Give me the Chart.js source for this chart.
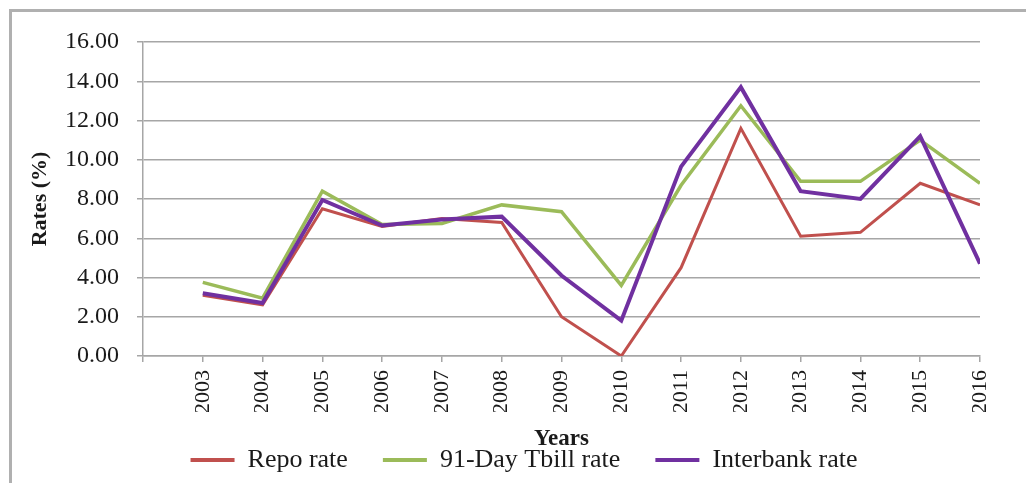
<!DOCTYPE html>
<html>
<head>
<meta charset="utf-8">
<script src="https://cdn.jsdelivr.net/npm/chart.js@4/dist/chart.umd.min.js"></script>
<style>
  html, body { margin: 0; padding: 0; background: #ffffff; }
  #wrap { width: 1026px; height: 483px; }
</style>
</head>
<body>
<div id="wrap"><canvas id="rates" width="1026" height="483"></canvas></div>
<script>
// Annual policy and money-market rates, percent
const years = [2003, 2004, 2005, 2006, 2007, 2008, 2009, 2010, 2011, 2012, 2013, 2014, 2015, 2016];
const repoRate = [3.1, 2.6, 7.5, 6.6, 7.0, 6.8, 2.0, 0.0, 4.5, 11.6, 6.1, 6.3, 8.8, 7.7];
const tbillRate = [3.75, 2.95, 8.4, 6.7, 6.75, 7.7, 7.35, 3.6, 8.7, 12.75, 8.9, 8.9, 11.0, 8.8];
const interbankRate = [3.2, 2.7, 7.95, 6.65, 6.95, 7.1, 4.1, 1.8, 9.65, 13.7, 8.4, 8.0, 11.2, 4.7];
const seriesNames = ['Repo rate', '91-Day Tbill rate', 'Interbank rate'];
const yTicks = [0, 2, 4, 6, 8, 10, 12, 14, 16];

const SERIF = "'Liberation Serif', 'Times New Roman', serif";
const GRID = '#a6a6a6';

const toPoints = vals => vals.map((v, i) => ({ x: years[i], y: v }));

// Grey frame along the top and left edges
const framePlugin = {
  id: 'frame',
  beforeDraw(chart) {
    const ctx = chart.ctx;
    ctx.save();
    ctx.fillStyle = '#ffffff';
    ctx.fillRect(0, 0, chart.width, chart.height);
    ctx.strokeStyle = '#b0b0b0';
    ctx.lineWidth = 3;
    ctx.beginPath();
    ctx.moveTo(10.5, chart.height);
    ctx.lineTo(10.5, 10.5);
    ctx.lineTo(chart.width, 10.5);
    ctx.stroke();
    ctx.restore();
  }
};

// Nudge the legend row to the right, under the plot's middle
const legendShift = {
  id: 'legendShift',
  afterLayout(chart) {
    const lg = chart.legend;
    if (lg) { lg.left += 28; lg.right += 28; }
  }
};

new Chart(document.getElementById('rates'), {
  type: 'line',
  data: {
    datasets: [
      { label: seriesNames[0], data: toPoints(repoRate), borderColor: '#c0504d', backgroundColor: '#c0504d', borderWidth: 3, order: 2 },
      { label: seriesNames[1], data: toPoints(tbillRate), borderColor: '#9bbb59', backgroundColor: '#9bbb59', borderWidth: 3.5, order: 1 },
      { label: seriesNames[2], data: toPoints(interbankRate), borderColor: '#7030a0', backgroundColor: '#7030a0', borderWidth: 4, order: 0 }
    ]
  },
  options: {
    responsive: false,
    animation: false,
    events: [],
    elements: { point: { radius: 0 }, line: { tension: 0, borderJoinStyle: 'miter' } },
    layout: { padding: { left: 12, top: 42, right: 46, bottom: 0 } },
    plugins: {
      tooltip: { enabled: false },
      legend: {
        position: 'bottom',
        labels: {
          usePointStyle: true,
          pointStyle: 'line',
          pointStyleWidth: 44,
          padding: 35,
          color: '#1a1a1a',
          font: { family: SERIF, size: 26 },
          sort: (a, b) => a.datasetIndex - b.datasetIndex,
          generateLabels(chart) {
            const items = Chart.defaults.plugins.legend.labels.generateLabels(chart);
            items.forEach(it => { it.lineWidth = 4; });
            return items;
          }
        }
      }
    },
    scales: {
      x: {
        type: 'linear',
        min: 2002,
        max: 2016,
        afterFit(scale) { scale.height = 56; },
        ticks: {
          stepSize: 1,
          autoSkip: false,
          minRotation: 90,
          maxRotation: 90,
          padding: 8,
          color: '#1a1a1a',
          font: { family: SERIF, size: 22 },
          callback: v => (years.includes(v) ? String(v) : '')
        },
        grid: { drawOnChartArea: false, drawTicks: true, tickLength: 6, color: GRID, lineWidth: 1.5 },
        border: { display: true, color: GRID, width: 1.5 },
        title: {
          display: true,
          text: 'Years',
          color: '#1a1a1a',
          font: { family: SERIF, size: 23, weight: 'bold', lineHeight: 1 },
          padding: { top: 0, bottom: -39 }
        }
      },
      y: {
        min: 0,
        max: 16,
        afterFit(scale) { scale.width = 131; },
        afterBuildTicks(scale) { scale.ticks = yTicks.map(v => ({ value: v })); },
        ticks: {
          padding: 18,
          color: '#1a1a1a',
          font: { family: SERIF, size: 24 },
          callback: v => Number(v).toFixed(2)
        },
        grid: { color: GRID, lineWidth: 1.5, tickLength: 6, drawTicks: true },
        border: { display: true, color: GRID, width: 1.5 },
        title: {
          display: true,
          text: 'Rates (%)',
          color: '#1a1a1a',
          font: { family: SERIF, size: 22, weight: 'bold', lineHeight: 1 },
          padding: { top: 17, bottom: 0 }
        }
      }
    }
  },
  plugins: [framePlugin, legendShift]
});
</script>
</body>
</html>
